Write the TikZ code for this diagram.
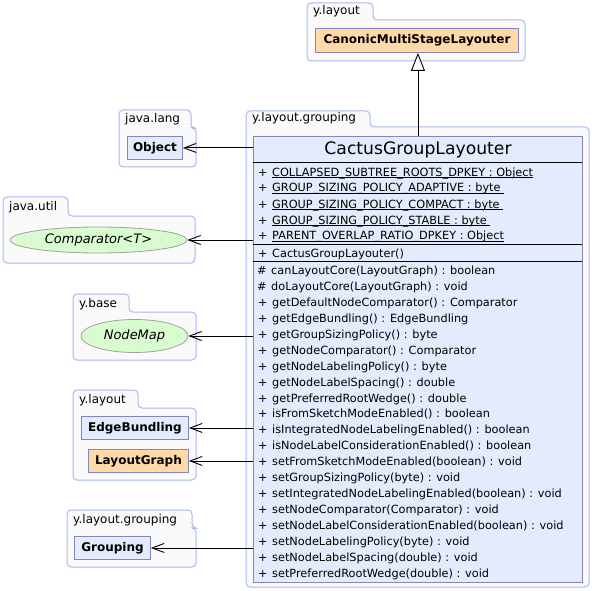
\documentclass[tikz,border=0pt]{standalone}
\usepackage{fontspec}
\setmainfont{DejaVu Sans}
\usetikzlibrary{arrows.meta,shapes.geometric}
\definecolor{pkgfill}{HTML}{FAFAFA}
\definecolor{pkgline}{HTML}{A8B6F4}
\definecolor{clsfill}{HTML}{E2ECFC}
\definecolor{clsline}{HTML}{8585C0}
\definecolor{orgfill}{HTML}{FFDAA8}
\definecolor{ifill}{HTML}{D8FCD0}
\definecolor{iline}{HTML}{A0A0A0}
\newcommand\pl[1]{\makebox[14pt][l]{#1}}
\newcommand\ulin[1]{\setbox0\hbox{#1}\rlap{\rule[-2pt]{\wd0}{0.75pt}}\box0}
\newcommand\pkgbox[8]{%
  \draw[pkg] (#3,{(#6+#8)/2}) -- (#3,#4) -- (#5,#4) -- (#5,#6) -- (#7,#6) -- (#7,#8) -- (#3,#8) -- cycle;
  \node[pkglabel] (#1) at ({#3+6},{#6-5}) {#2};
}
\begin{document}
\begin{tikzpicture}[x=1pt,y=-1pt,
  pkg/.style={draw=pkgline,fill=pkgfill,line width=1pt,rounded corners=4pt},
  pkglabel/.style={anchor=base west,inner sep=0pt,font=\fontsize{12}{14}\selectfont},
  cls/.style={draw=clsline,fill=clsfill,line width=0.9pt,inner sep=0pt,anchor=north west,font=\fontsize{12}{14}\selectfont\bfseries},
  orgcls/.style={cls,fill=orgfill},
  iface/.style={ellipse,draw=iline,fill=ifill,line width=0.8pt,inner sep=0pt,font=\fontsize{13}{15}\selectfont\itshape},
  row/.style={anchor=base west,inner sep=0pt,font=\fontsize{11.3}{13}\selectfont},
  dep/.style={line width=0.9pt,-{Straight Barb[length=12pt,width=9pt,line width=0.9pt]}},
  inh/.style={line width=0.9pt,-{Triangle[open,length=18pt,width=14pt,fill=white,line width=0.9pt]}}
]
\useasboundingbox (0,0) rectangle (592,591);

% packages
\pkgbox{pkgA}{y.layout}{307}{3}{373}{20}{525}{61}
\pkgbox{pkgB}{java.lang}{119}{110}{191}{128}{196}{167}
\pkgbox{pkgC}{y.layout.grouping}{246}{111}{370}{127}{589}{587}
\pkgbox{pkgD}{java.util}{3}{197}{68}{216}{195}{263}
\pkgbox{pkgE}{y.base}{73}{294}{129}{312}{196}{360}
\pkgbox{pkgF}{y.layout}{73}{390}{138}{408}{196}{480}
\pkgbox{pkgG}{y.layout.grouping}{67}{510}{192}{528}{196}{567}

% classes
\node[orgcls,minimum width=203pt,minimum height=24pt] (canonic) at (315,28) {CanonicMultiStageLayouter};
\node[cls,minimum width=55pt,minimum height=23pt] (object) at (127,136) {Object};
\node[iface,minimum width=177pt,minimum height=26pt] (comparator) at (98.5,240) {Comparator<T>};
\node[iface,minimum width=107pt,minimum height=33pt] (nodemap) at (134.5,336) {NodeMap};
\node[cls,minimum width=107pt,minimum height=23pt] (edgebundling) at (81,416) {EdgeBundling};
\node[orgcls,minimum width=100pt,minimum height=23pt] (layoutgraph) at (88,449) {LayoutGraph};
\node[cls,minimum width=76pt,minimum height=23pt] (grouping) at (74,536) {Grouping};

% main class
\node[cls,minimum width=329pt,minimum height=446pt] (main) at (253,136) {};
\node[anchor=base,inner sep=0pt,font=\fontsize{17.2}{20}\selectfont] (title) at (418,155) {CactusGroupLayouter};
\draw[line width=0.9pt] (253,162) -- (582,162);
\draw[line width=0.9pt] (253,244) -- (582,244);
\draw[line width=0.9pt] (253,261) -- (582,261);

\node[row] (a1) at (258,176) {\pl{+}\ulin{COLLAPSED\_SUBTREE\_ROOTS\_DPKEY : Object}};
\node[row] (a2) at (258,192) {\pl{+}\ulin{GROUP\_SIZING\_POLICY\_ADAPTIVE : byte }};
\node[row] (a3) at (258,208) {\pl{+}\ulin{GROUP\_SIZING\_POLICY\_COMPACT : byte }};
\node[row] (a4) at (258,224) {\pl{+}\ulin{GROUP\_SIZING\_POLICY\_STABLE : byte }};
\node[row] (a5) at (258,240) {\pl{+}\ulin{PARENT\_OVERLAP\_RATIO\_DPKEY : Object}};
\node[row] (c1) at (258,257) {\pl{+}CactusGroupLayouter()};

\node[row] (m1) at (257,274) {\pl{\#}canLayoutCore(LayoutGraph) : boolean};
\node[row] (m2) at (257,290) {\pl{\#}doLayoutCore(LayoutGraph) : void};
\node[row] (m3) at (258,306) {\pl{+}getDefaultNodeComparator() : Comparator};
\node[row] (m4) at (258,322) {\pl{+}getEdgeBundling() : EdgeBundling};
\node[row] (m5) at (258,338) {\pl{+}getGroupSizingPolicy() : byte};
\node[row] (m6) at (258,354) {\pl{+}getNodeComparator() : Comparator};
\node[row] (m7) at (258,370) {\pl{+}getNodeLabelingPolicy() : byte};
\node[row] (m8) at (258,386) {\pl{+}getNodeLabelSpacing() : double};
\node[row] (m9) at (258,402) {\pl{+}getPreferredRootWedge() : double};
\node[row] (m10) at (258,417.5) {\pl{+}isFromSketchModeEnabled() : boolean};
\node[row] (m11) at (258,433.5) {\pl{+}isIntegratedNodeLabelingEnabled() : boolean};
\node[row] (m12) at (258,449.5) {\pl{+}isNodeLabelConsiderationEnabled() : boolean};
\node[row] (m13) at (258,465.5) {\pl{+}setFromSketchModeEnabled(boolean) : void};
\node[row] (m14) at (258,481.5) {\pl{+}setGroupSizingPolicy(byte) : void};
\node[row] (m15) at (258,497.5) {\pl{+}setIntegratedNodeLabelingEnabled(boolean) : void};
\node[row] (m16) at (258,513.5) {\pl{+}setNodeComparator(Comparator) : void};
\node[row] (m17) at (258,529.5) {\pl{+}setNodeLabelConsiderationEnabled(boolean) : void};
\node[row] (m18) at (258,545) {\pl{+}setNodeLabelingPolicy(byte) : void};
\node[row] (m19) at (258,561) {\pl{+}setNodeLabelSpacing(double) : void};
\node[row] (m20) at (258,577) {\pl{+}setPreferredRootWedge(double) : void};

% connectors
\draw[inh] (main.north) -- (main.north |- canonic.south);
\draw[dep] (main.west |- object.east) -- (object.east);
\draw[dep] (main.west |- comparator.east) -- (comparator.east);
\draw[dep] (main.west |- nodemap.east) -- (nodemap.east);
\draw[dep] (main.west |- edgebundling.east) -- (edgebundling.east);
\draw[dep] (main.west |- layoutgraph.east) -- (layoutgraph.east);
\draw[dep] (main.west |- grouping.east) -- (grouping.east);
\end{tikzpicture}
\end{document}
